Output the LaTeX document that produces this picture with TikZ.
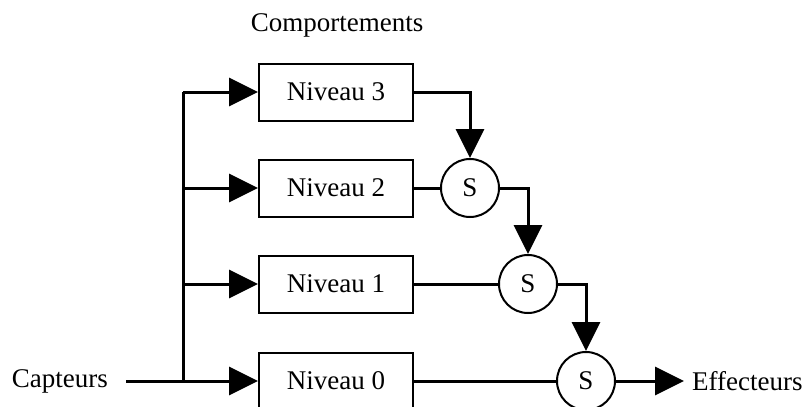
\documentclass[tikz,border=0pt]{standalone}
\usepackage{fontspec}
\setmainfont{Liberation Serif}
\usetikzlibrary{arrows.meta}
\begin{document}
\begin{tikzpicture}[x=1pt,y=-1pt,
  every node/.style={font=\fontsize{27}{32}\selectfont},
  level/.style={draw,line width=2pt,minimum width=154pt,minimum height=57pt,inner sep=0pt},
  sum/.style={draw,circle,line width=2pt,minimum size=58pt,inner sep=0pt},
  wire/.style={line width=3pt},
  feed/.style={wire,-{Triangle[length=29pt,width=28pt]}},
  label/.style={inner sep=0pt}]
\useasboundingbox (0,0) rectangle (806,407);
% behaviour levels
\node[level] (n3) at (336,92) {Niveau 3};
\node[level] (n2) at (336,188) {Niveau 2};
\node[level] (n1) at (336,284) {Niveau 1};
\node[level] (n0) at (336,381) {Niveau 0};
% suppression nodes
\node[sum] (s2) at (470,188) {S};
\node[sum] (s1) at (528,284) {S};
\node[sum] (s0) at (586,381) {S};
% labels
\node[label] (title) at (337,25) {Comportements};
\node[label,anchor=east] (cap) at (108,381) {Capteurs};
\node[label,anchor=west] (eff) at (692,381) {Effecteurs};
% sensor bus
\coordinate (in) at (126,381);
\coordinate (bt) at (183,92);
\coordinate (bb) at (183,381);
\draw[feed] (in) -- (n0.west);
\draw[wire] (bb) -- (bt);
\draw[feed] (bt) -- (n3.west);
\draw[feed] (183,188) -- (n2.west);
\draw[feed] (183,284) -- (n1.west);
% level outputs
\draw[feed] (n3.east) -| (s2.north);
\draw[wire] (n2.east) -- (s2.west);
\draw[feed] (s2.east) -| (s1.north);
\draw[wire] (n1.east) -- (s1.west);
\draw[feed] (s1.east) -| (s0.north);
\draw[wire] (n0.east) -- (s0.west);
\coordinate (out) at (684,381);
\draw[feed] (s0.east) -- (out);
\end{tikzpicture}
\end{document}
